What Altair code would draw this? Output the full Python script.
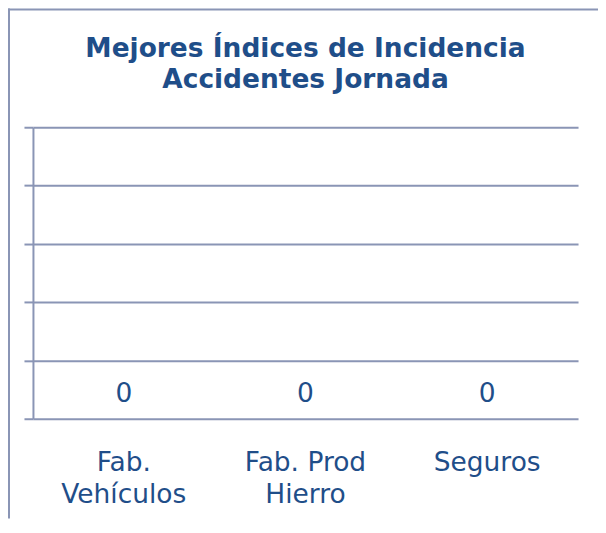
import altair as alt
import pandas as pd

# ---- data ----
categories = ["Fab.\nVehículos", "Fab. Prod\nHierro", "Seguros"]
values = [0, 0, 0]
y_ticks = [0, 0.2, 0.4, 0.6, 0.8, 1.0]
title_lines = ["Mejores Índices de Incidencia", "Accidentes Jornada"]

df = pd.DataFrame({"cat": categories, "val": values})
frame_df = pd.DataFrame({"f": [0]})

BLUE = "#1F4E89"
LINE = "#8A95B5"
FONT = "DejaVu Sans"
W, H = 546, 292
PAD = {"left": 25, "top": 119, "right": 20, "bottom": 100}

x = alt.X(
    "cat:N",
    sort=categories,
    scale=alt.Scale(paddingInner=0.4, paddingOuter=0.2),
    axis=alt.Axis(
        title=None,
        labelExpr="split(datum.label, '\\n')",
        labelAngle=0,
        ticks=False,
        tickSize=0,
        domain=False,
        labelFont=FONT,
        labelFontSize=26.5,
        labelColor=BLUE,
        labelLineHeight=31.5,
        labelPadding=31,
        labelBaseline="top",
    ),
)
y = alt.Y(
    "val:Q",
    scale=alt.Scale(domain=[0, 1], nice=False),
    axis=alt.Axis(
        title=None,
        values=y_ticks,
        labels=False,
        grid=True,
        gridColor=LINE,
        gridWidth=2,
        tickSize=9,
        tickColor=LINE,
        tickWidth=2,
        domainColor=LINE,
        domainWidth=2,
    ),
)

bars = alt.Chart(df).mark_bar(color="#4F81BD").encode(x=x, y=y)
labels = alt.Chart(df).mark_text(
    font=FONT, fontSize=26.5, color=BLUE, dy=-17, baseline="alphabetic"
).encode(x=x, y=y, text="val:Q")

frame_left = alt.Chart(frame_df).mark_rule(color=LINE, strokeWidth=2).encode(
    x=alt.value(-PAD["left"] + 1), y=alt.value(-PAD["top"]), y2=alt.value(H + PAD["bottom"])
)
frame_top = alt.Chart(frame_df).mark_rule(color=LINE, strokeWidth=2).encode(
    x=alt.value(-PAD["left"]), x2=alt.value(W + PAD["right"]), y=alt.value(-PAD["top"] + 1)
)

chart = (
    alt.layer(bars, labels, frame_left, frame_top)
    .properties(
        width=W,
        height=H,
        autosize=alt.AutoSizeParams(type="none"),
        padding=PAD,
        background="white",
        title=alt.TitleParams(
            text=title_lines,
            font=FONT,
            fontSize=26.5,
            fontWeight="bold",
            color=BLUE,
            anchor="middle",
            frame="group",
            lineHeight=31,
            offset=0,
            dy=86,
        ),
    )
    .configure_view(stroke=None)
)

chart.save("out.html", embed_options={"renderer": "svg", "actions": False})
